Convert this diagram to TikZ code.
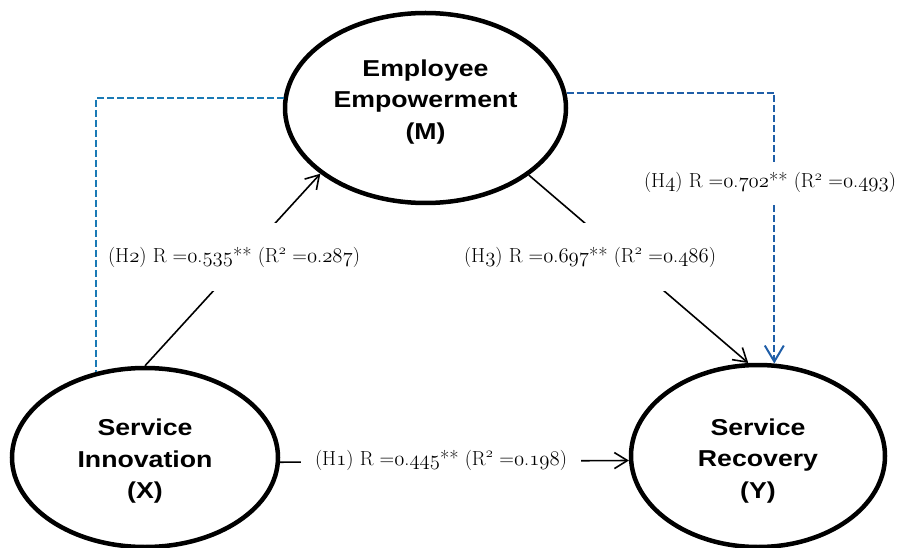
\documentclass[tikz,border=0pt]{standalone}
\usepackage{fontspec}
\newfontfamily\nodefont{Liberation Sans}
\usetikzlibrary{shapes.geometric,arrows.meta}
\definecolor{lblue}{RGB}{26,122,181}
\definecolor{dblue}{RGB}{31,94,168}
\newcommand\osn[1]{{\usefont{OML}{lmm}{m}{it}#1}}
\begin{document}
\begin{tikzpicture}[x=1pt,y=-1pt,
  latent/.style={draw, ellipse, line width=4.5pt, inner sep=0pt},
  ltext/.style={font=\nodefont\bfseries\fontsize{23}{31.5}\selectfont, align=center, xscale=1.16, transform shape},
  conn/.style={line width=1.6pt, -{Straight Barb[length=13pt,width=16pt]}},
  dconn/.style={line width=2pt, dash pattern=on 7pt off 3pt},
  lbl/.style={fill=white, font=\fontsize{20.3}{24}\selectfont, inner ysep=0pt}
]
\useasboundingbox (0,0) rectangle (900,548);
% latent variables
\node[latent, minimum width=281pt, minimum height=190pt,
  label={[ltext, yshift=6pt]center:Employee\\Empowerment\\(M)}] (M) at (425.5,108) {};
\node[latent, minimum width=266pt, minimum height=179pt,
  label={[ltext, yshift=-4pt]center:Service\\Innovation\\(X)}] (X) at (145,457.5) {};
\node[latent, minimum width=254pt, minimum height=182pt,
  label={[ltext, yshift=-5pt]center:Service\\Recovery\\(Y)}] (Y) at (758,456) {};
% dashed paths
\draw[dconn, lblue] (M.176) -| (X.120);
\draw[dconn, dblue, -{Straight Barb[length=16pt,width=19pt]}] (M.6) -| (Y.80);
% direct paths
\draw[conn] (X.north) -- (M.212.7);
\draw[conn] (M.-33.3) -- (Y.96);
\draw[conn] (X.-2) -- (Y.182);
% labels
\node[lbl, inner xsep=6pt, minimum height=68pt] (h2) at (234,257)
  {(H\osn{2}) R =\osn{0}.\osn{535}** (R\textsuperscript{\osn{2}} =\osn{0}.\osn{287})};
\node[lbl, inner xsep=6pt, minimum height=68pt] (h3) at (590,257)
  {(H\osn{3}) R =\osn{0}.\osn{697}** (R\textsuperscript{\osn{2}} =\osn{0}.\osn{486})};
\node[lbl, inner xsep=14pt, minimum height=26pt] (h1) at (441,460)
  {(H\osn{1}) R =\osn{0}.\osn{445}** (R\textsuperscript{\osn{2}} =\osn{0}.\osn{198})};
\node[lbl, inner xsep=3pt, minimum height=39pt] (h4) at (770,182.5)
  {(H\osn{4}) R =\osn{0}.\osn{702}** (R\textsuperscript{\osn{2}} =\osn{0}.\osn{493})};
\end{tikzpicture}
\end{document}
